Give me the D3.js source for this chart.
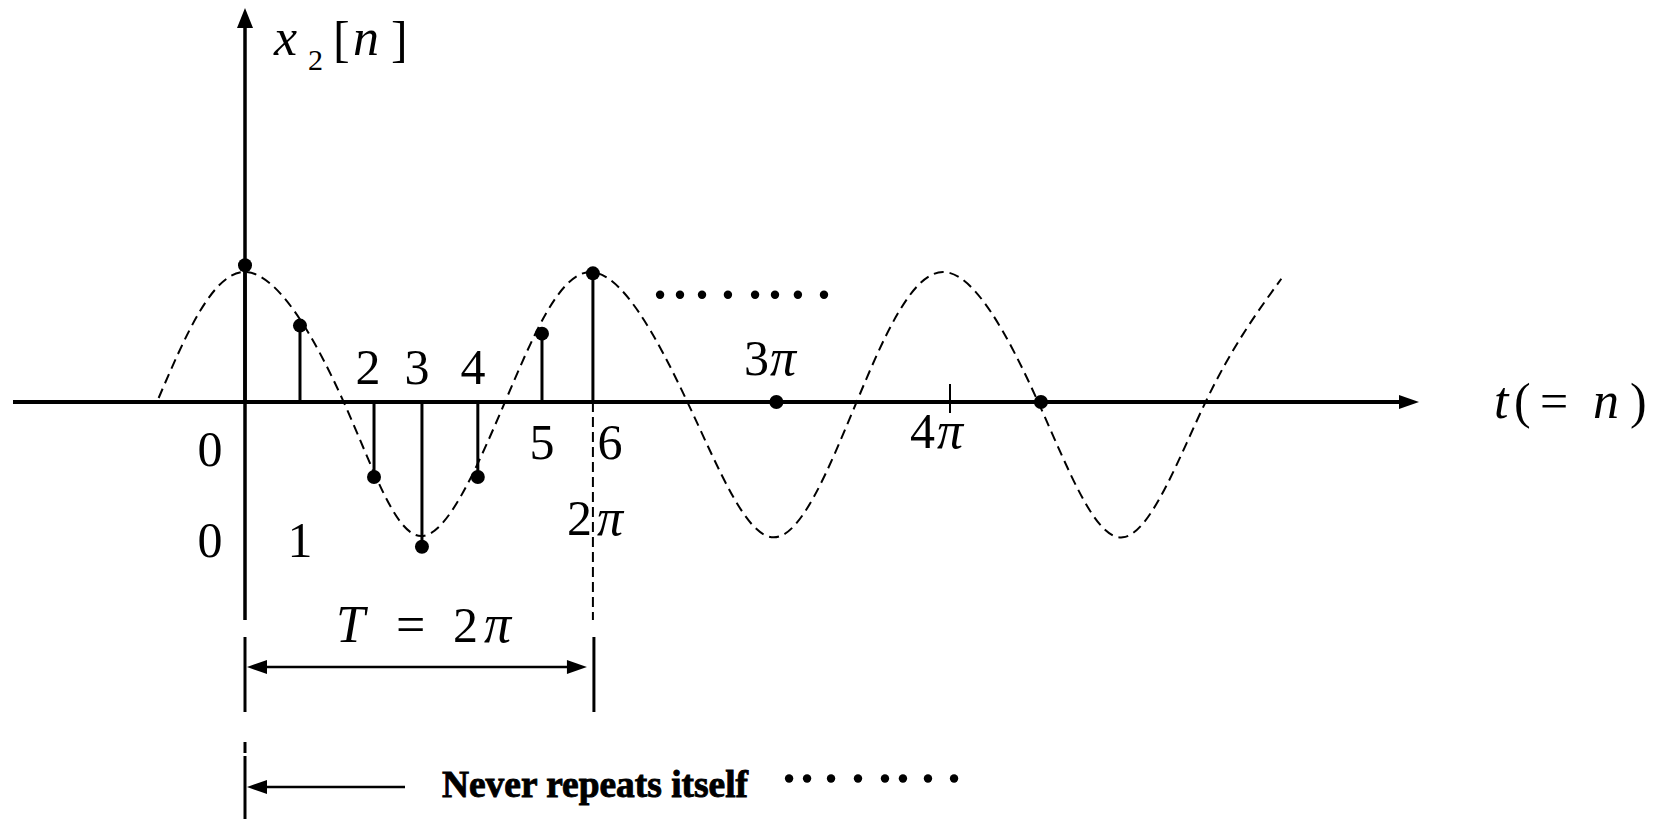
<!DOCTYPE html>
<meta charset="utf-8">
<style>
  body { margin: 0; background: #fff; }
  text { font-family: "Liberation Serif", "Times New Roman", Times, serif; }
</style>
<body>
<svg id="chart" width="1664" height="819"></svg>
<script src="https://d3js.org/d3.v7.min.js"></script>
<script>
// t is measured in multiples of pi, values are x2 / amplitude

// sampled stems x2[n], n = 0..6 (position along t, height)
var stemT = [0, 0.312, 0.732, 1.004, 1.321, 1.685, 1.974];
var stemV = [1.02, 0.57, -0.56, -1.08, -0.56, 0.51, 0.96];

// key points of the dashed envelope
var curveT = [-0.49, 0, 0.56, 1.0, 1.475, 1.96, 2.51, 3.0, 3.47, 3.96, 4.5, 4.98, 5.45, 5.88];
var curveV = [0.03, 0.97, 0, -1.0, 0, 0.97, 0, -1.01, 0, 0.97, 0, -1.01, 0, 0.92];

// dots sitting on the t axis
var axisDotT = [3.015, 4.516];

// "......" continuation dots
var upperDotsT = [2.355, 2.468, 2.593, 2.74, 2.894, 3.007, 3.137, 3.285];
var upperDotsV = 0.8;
var lowerDotsT = [3.087, 3.189, 3.325, 3.478, 3.631, 3.733, 3.875, 4.023];
var lowerDotsV = -2.81;

var svg = d3.select("#chart");

var x = d3.scaleLinear().domain([0, 4]).range([245, 950]),
    y = d3.scaleLinear().domain([-1, 1]).range([536, 268]);

function arrowHead(tipX, tipY, dir, len, half) {
  var p;
  if (dir === "up") p = [[tipX, tipY], [tipX - half, tipY + len], [tipX + half, tipY + len]];
  else if (dir === "right") p = [[tipX, tipY], [tipX - len, tipY - half], [tipX - len, tipY + half]];
  else p = [[tipX, tipY], [tipX + len, tipY - half], [tipX + len, tipY + half]];
  svg.append("path").attr("d", "M" + p.join("L") + "Z").attr("fill", "#000");
}

function line(x1, y1, x2, y2, w, dash) {
  var l = svg.append("line")
    .attr("x1", x1).attr("y1", y1).attr("x2", x2).attr("y2", y2)
    .attr("stroke", "#000").attr("stroke-width", w);
  if (dash) l.attr("stroke-dasharray", dash);
  return l;
}

// dashed envelope
var pts = curveT.map(function(t, i) { return [t, curveV[i]]; });
svg.append("path")
  .attr("d", d3.line().x(function(d) { return x(d[0]); }).y(function(d) { return y(d[1]); })
    .curve(d3.curveNatural)(pts))
  .attr("fill", "none").attr("stroke", "#000").attr("stroke-width", 2)
  .attr("stroke-dasharray", "10,6");

// axes
var y0 = y(0);
line(13, y0, 1405, y0, 4);
arrowHead(1419, y0, "right", 20, 7);
line(x(0), 22, x(0), 620, 3.5);
arrowHead(x(0), 8, "up", 20, 8);

// 4pi tick
line(x(4), y0 - 18, x(4), y0 + 11, 2);

// dashed marker below n = 6
line(x(stemT[6]), y0, x(stemT[6]), 620, 2, "10,5");

// stems
var stems = svg.append("g");
stemT.forEach(function(t, i) {
  stems.append("line")
    .attr("x1", x(t)).attr("x2", x(t))
    .attr("y1", y0).attr("y2", y(stemV[i]))
    .attr("stroke", "#000").attr("stroke-width", i === 0 ? 3.5 : 3);
  stems.append("circle").attr("cx", x(t)).attr("cy", y(stemV[i])).attr("r", 7);
});

axisDotT.forEach(function(t) {
  svg.append("circle").attr("cx", x(t)).attr("cy", y0).attr("r", 7);
});

upperDotsT.forEach(function(t) {
  svg.append("circle").attr("cx", x(t)).attr("cy", y(upperDotsV)).attr("r", 4.2);
});
lowerDotsT.forEach(function(t) {
  svg.append("circle").attr("cx", x(t)).attr("cy", y(lowerDotsV)).attr("r", 4.2);
});

// period marker T = 2pi
line(x(0), 637, x(0), 712, 3);
line(x(stemT[6]) + 1, 637, x(stemT[6]) + 1, 712, 3);
line(x(0) + 18, 667, x(stemT[6]) - 24, 667, 2.5);
arrowHead(x(0) + 2, 667, "left", 20, 7);
arrowHead(x(stemT[6]) - 6, 667, "right", 20, 7);

// "never repeats" marker
line(x(0), 742, x(0), 753, 3);
line(x(0), 756, x(0), 819, 3);
line(x(0) + 18, 787, 405, 787, 2.5);
arrowHead(x(0) + 2, 787, "left", 20, 7);

function txt(xp, yp, s, size, italic, anchor) {
  return svg.append("text")
    .attr("x", xp).attr("y", yp)
    .attr("font-size", size)
    .attr("font-style", italic ? "italic" : "normal")
    .attr("text-anchor", anchor || "start")
    .text(s);
}

// y label x2[n]
txt(274, 55, "x", 52, true);
txt(308, 70, "2", 30, false);
txt(333, 56, "[", 50, false);
txt(353, 55, "n", 52, true);
txt(391, 56, "]", 50, false);

// n labels
txt(368, 384, "2", 50, false, "middle");
txt(417, 384, "3", 50, false, "middle");
txt(473, 384, "4", 50, false, "middle");
txt(210, 466, "0", 50, false, "middle");
txt(542, 459, "5", 50, false, "middle");
txt(610, 459, "6", 50, false, "middle");
txt(210, 557, "0", 50, false, "middle");
txt(300, 557, "1", 50, false, "middle");

// t labels
txt(567, 535, "2", 50, false);
txt(597, 535, "\u03c0", 52, true);
txt(744, 375, "3", 50, false);
txt(770, 375, "\u03c0", 52, true);
txt(910, 448, "4", 50, false);
txt(937, 448, "\u03c0", 52, true);

// axis name t(= n)
txt(1494, 418, "t", 52, true);
txt(1514, 418, "(", 50, false);
txt(1540, 418, "=", 50, false);
txt(1593, 418, "n", 52, true);
txt(1630, 418, ")", 50, false);

// period label
txt(336, 642, "T", 52, true);
txt(396, 642, "=", 52, false);
txt(453, 642, "2", 50, false);
txt(484, 642, "\u03c0", 54, true);

txt(442, 797, "Never repeats itself", 37, false)
  .attr("font-weight", "bold")
  .attr("textLength", 306).attr("lengthAdjust", "spacingAndGlyphs")
  .attr("stroke", "#000").attr("stroke-width", 0.9);
</script>
</body>
